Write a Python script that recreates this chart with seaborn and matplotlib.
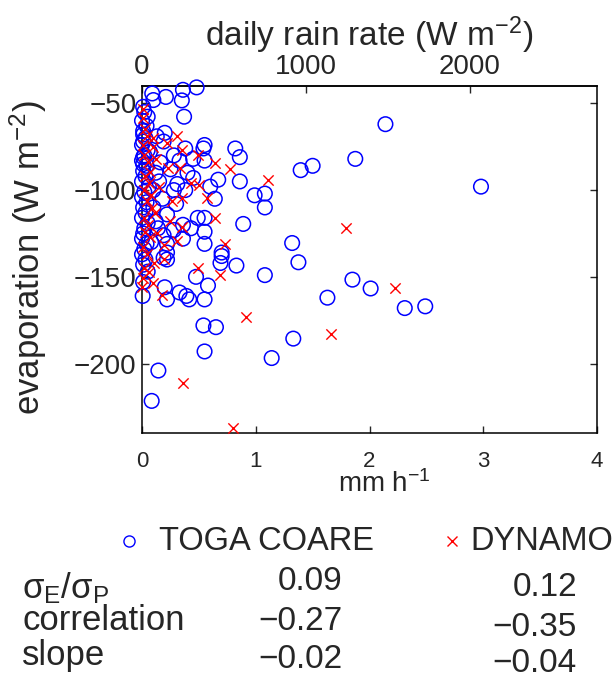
import numpy as np
import pandas as pd
import matplotlib
matplotlib.use("Agg")
import matplotlib.pyplot as plt
import seaborn as sns
from matplotlib.lines import Line2D

# ---------------- data ----------------
toga_rain = [0.09, 0.10, 0.21, 0.36, 0.48, 0.35, 0.01, 0.05, 0.37,
             0.01, 0.01, 0.13, 0.20, 0.19, 0.38, 0.55, 0.54, 0.82, 0.86, 0.55,
             0.45, 0.28, 0.33, 0.07, 0.01, 0.01, 0.16,
             0.67, 0.86, 0.38, 0.31, 0.64, 0.99, 1.08, 1.08, 0.22, 0.49, 0.55,
             0.36, 0.43, 0.55, 0.28, 0.19, 0.89, 0.55, 0.36, 0.70, 0.22, 0.22,
             0.01, 0.006, 0.20, 0.22, 0.33, 0.39, 0.415, 0.55, 0.58, 0.475,
             0.69, 0.83, 0.70, 0.54, 0.65, 0.55, 0.19, 0.22,
             0.144, 0.085,
             2.14, 1.875, 1.395, 1.50, 2.98, 1.32, 1.375, 1.08, 1.85, 2.01,
             1.63, 2.31, 2.49, 1.33, 1.14,
             0.02, 0.00, 0.04, 0.01, 0.03, 0.00, 0.05, 0.02, 0.00, 0.04,
             0.01, 0.03, 0.00, 0.06, 0.02, 0.00, 0.04, 0.01, 0.03, 0.00,
             0.05, 0.02, 0.01, 0.00, 0.04, 0.02, 0.00, 0.03, 0.01, 0.05,
             0.12, 0.10, 0.15, 0.25, 0.18, 0.30, 0.12, 0.08, 0.28, 0.40,
             0.45, 0.60, 0.10, 0.14]
toga_evap = [-44.3, -48.1, -46.3, -42.2, -40.8, -48.3, -52.0, -57.7, -57.7,
             -68.0, -72.0, -69.0, -67.0, -72.0, -76.0, -74.0, -76.0, -76.0, -81.0, -83.0,
             -82.0, -80.0, -83.0, -78.0, -81.0, -85.0, -84.0,
             -94.0, -95.0, -100.0, -96.5, -105.0, -103.0, -102.0, -110.0, -114.0, -116.0, -116.0,
             -120.0, -122.0, -124.0, -123.0, -126.0, -119.5, -131.0, -128.0, -136.0, -136.0, -131.0,
             -153.0, -161.0, -156.0, -163.0, -159.0, -161.0, -163.0, -163.0, -155.0, -150.0,
             -142.0, -143.5, -138.0, -178.0, -179.0, -193.0, -139.0, -140.0,
             -204.0, -221.5,
             -62.0, -82.0, -88.5, -86.0, -98.0, -130.5, -141.6, -149.0, -151.6, -156.7,
             -162.0, -168.0, -167.0, -185.6, -196.8,
             -55.0, -60.0, -63.0, -66.0, -70.0, -74.0, -77.0, -80.0, -83.0, -86.0,
             -89.0, -92.0, -95.0, -98.0, -101.0, -104.0, -107.0, -110.0, -113.0, -116.0,
             -119.0, -122.0, -125.0, -128.0, -131.0, -134.0, -137.0, -140.0, -143.0, -147.0,
             -90.0, -100.0, -95.0, -88.0, -105.0, -108.0, -118.0, -130.0, -100.0, -90.0,
             -93.0, -98.0, -110.0, -122.0]

dyn_rain = [0.01, 0.01, 0.026, 0.04, 0.10, 0.01, 0.10, 0.305, 0.22, 0.35,
            0.495, 0.64, 0.774, 1.105, 0.23, 0.33, 0.07, 0.26, 0.35, 0.574,
            0.43, 0.50, 0.64, 0.73, 0.305, 0.35, 0.085, 0.11, 0.19, 0.105,
            0.19, 0.006, 0.00, 0.094, 0.18, 0.495, 0.686, 0.914, 0.357, 0.80,
            1.79, 2.22, 1.66,
            0.02, 0.05, 0.03, 0.06, 0.02, 0.08, 0.04, 0.02, 0.05, 0.03,
            0.07, 0.01, 0.04, 0.15, 0.12, 0.13, 0.25, 0.02, 0.06]
dyn_evap = [-53.0, -58.6, -65.0, -69.0, -70.0, -74.0, -75.0, -69.0, -73.0, -77.0,
            -80.0, -84.5, -88.0, -94.0, -87.4, -87.4, -89.3, -106.5, -104.6, -104.6,
            -96.0, -97.0, -116.0, -131.0, -129.5, -121.0, -110.4, -113.0, -131.4, -142.0,
            -139.5, -150.6, -156.0, -153.4, -160.6, -144.8, -148.7, -173.0, -211.0, -237.0,
            -122.0, -156.5, -183.0,
            -80.0, -84.0, -92.0, -96.0, -100.0, -103.0, -106.0, -116.0, -120.0, -124.0,
            -127.0, -133.0, -137.0, -98.0, -82.0, -125.0, -118.0, -145.0, -147.0]

series_names = ["TOGA COARE", "DYNAMO"]
stat_labels = ["σ$_\\mathregular{E}$/σ$_\\mathregular{P}$", "correlation", "slope"]
toga_stats = ["0.09", "\u22120.27", "\u22120.02"]
dyn_stats = ["0.12", "\u22120.35", "\u22120.04"]

bottom_ticks = [0, 1, 2, 3, 4]
top_ticks = [0, 1000, 2000]
y_ticks = [-200, -150, -100, -50]

MMH_TO_WM2 = 694.4  # 1 mm/h of rain expressed as latent heat flux

# ---------------- style ----------------
sns.set_style("ticks")
plt.rcParams["font.family"] = ["Liberation Sans", "DejaVu Sans"]
plt.rcParams["mathtext.fontset"] = "custom"
plt.rcParams["mathtext.rm"] = "Liberation Sans"
plt.rcParams["mathtext.it"] = "Liberation Sans"
plt.rcParams["mathtext.bf"] = "Liberation Sans"
plt.rcParams["axes.linewidth"] = 1.1
plt.rcParams["axes.edgecolor"] = "black"

W, H = 615, 679
fig = plt.figure(figsize=(W / 100, H / 100), dpi=100)
ax = fig.add_axes([142 / W, 1 - 433 / H, 455 / W, 347 / H])

df_t = pd.DataFrame({"rain": toga_rain, "evap": toga_evap})
df_d = pd.DataFrame({"rain": dyn_rain, "evap": dyn_evap})

sns.scatterplot(data=df_t, x="rain", y="evap", ax=ax, marker="o",
                s=110, facecolors="none", edgecolor=(0, 0, 1), linewidth=1.1,
                clip_on=False, zorder=3)
sns.scatterplot(data=df_d, x="rain", y="evap", ax=ax, marker="x",
                s=55, color=(1, 0, 0), linewidth=1.0, clip_on=False, zorder=4)

ax.set_xlim(0, 4)
ax.set_ylim(-240, -40)
ax.set_xticks(bottom_ticks)
ax.set_yticks(y_ticks)
ax.tick_params(axis="x", direction="in", length=5, width=1, labelsize=16, pad=13)
ax.tick_params(axis="y", direction="in", length=5, width=1, labelsize=20,
               right=True, pad=4)
for s in ax.spines.values():
    s.set_visible(True)
ax.set_xlabel("mm h$^{-1}$", fontsize=20)
ax.xaxis.set_label_coords((384 - 142) / 455, (433 - 470) / 347)
ax.set_ylabel("evaporation (W m$^{-2}$)", fontsize=25)
ax.yaxis.set_label_coords((49 - 142) / 455, 0.505)

sec = ax.secondary_xaxis("top", functions=(lambda x: x * MMH_TO_WM2,
                                           lambda w: w / MMH_TO_WM2))
sec.set_xticks(top_ticks)
sec.tick_params(direction="in", length=5, width=1, labelsize=20, pad=4)
sec.set_xlabel("daily rain rate (W m$^{-2}$)", fontsize=24, labelpad=6)

# legend (drawn as marker + text pairs)
leg_y = 1 - 541 / H
fig.add_artist(Line2D([129 / W], [leg_y], transform=fig.transFigure,
                      marker="o", ls="none", mfc="none", mec=(0, 0, 1),
                      ms=8, mew=1.0))
fig.text(159 / W, leg_y, series_names[0], fontsize=23.5, ha="left", va="center")
fig.add_artist(Line2D([452 / W], [leg_y], transform=fig.transFigure,
                      marker="x", ls="none", color=(1, 0, 0), ms=7, mew=1.0))
fig.text(470 / W, leg_y, series_names[1], fontsize=23.5, ha="left", va="center")

# statistics table
lab_y = [588, 621, 655]
col1_y = [582, 622, 659]
col2_y = [587, 627, 663]
for lab, a, b, y0, y1, y2 in zip(stat_labels, toga_stats, dyn_stats,
                                 lab_y, col1_y, col2_y):
    fig.text(22 / W, 1 - y0 / H, lab, fontsize=25, ha="left", va="center")
    fig.text(342 / W, 1 - y1 / H, a, fontsize=24, ha="right", va="center")
    fig.text(577 / W, 1 - y2 / H, b, fontsize=24, ha="right", va="center")

fig.savefig("out.png", dpi=100)
